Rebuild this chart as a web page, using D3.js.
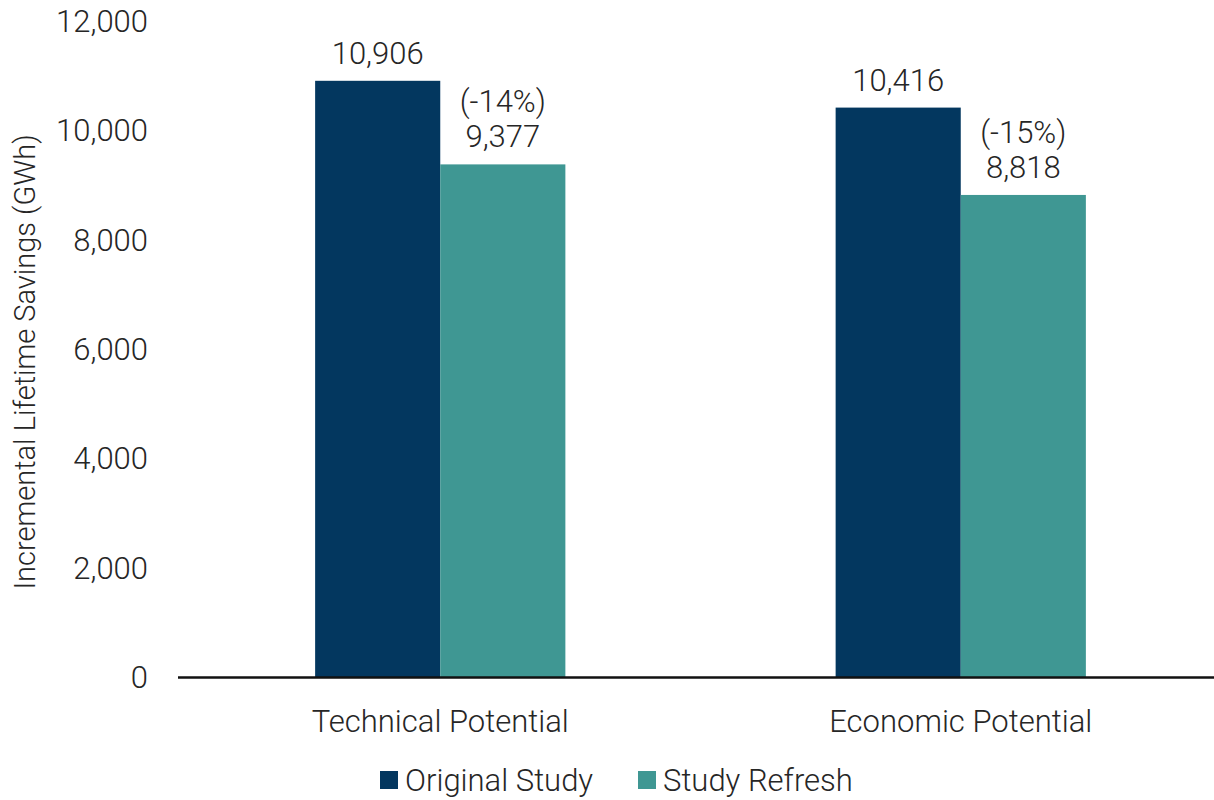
<!DOCTYPE html>
<html><head><meta charset="utf-8">
<script src="https://cdn.jsdelivr.net/npm/d3@7"></script>
<style>body{margin:0;background:#fff}svg{display:block}text{font-family:Roboto,"Liberation Sans",Arial,sans-serif;font-weight:300;fill:#262626}</style>
</head><body><svg id="c" width="1214" height="800"></svg>
<script>
const categories = ["Technical Potential", "Economic Potential"];
const seriesNames = ["Original Study", "Study Refresh"];
const originalValues = [10906, 10416];
const refreshValues = [9377, 8818];
const changeLabels = ["(-14%)", "(-15%)"];
const yTicks = [0, 2000, 4000, 6000, 8000, 10000, 12000];
const colors = ["#03375f", "#3f9793"];

const svg = d3.select("#c");
const x = d3.scaleBand().domain(categories).range([180, 1221]).paddingInner(0).paddingOuter(0);
const y = d3.scaleLinear().domain([0, 12000]).range([677, 21]);
const sub = d3.scaleBand().domain(seriesNames).range([0, x.bandwidth()]).paddingInner(0).paddingOuter(1.08);
const fs = 31;

// y tick labels
svg.append("g").selectAll("text").data(yTicks).join("text")
  .attr("x", 148).attr("y", d => y(d)).attr("dy", "0.35em")
  .attr("text-anchor", "end").style("font-size", fs + "px")
  .text(d => d3.format(",")(d));

// y title
svg.append("text").attr("transform", "translate(35,362) rotate(-90)")
  .attr("text-anchor", "middle").style("font-size", "29px")
  .text("Incremental Lifetime Savings (GWh)");

const data = categories.map((c, i) => ({cat: c, vals: [originalValues[i], refreshValues[i]], change: changeLabels[i]}));
const g = svg.append("g").selectAll("g").data(data).join("g")
  .attr("transform", d => `translate(${x(d.cat)},0)`);
g.selectAll("rect").data(d => d.vals.map((v, j) => ({v, s: seriesNames[j], j}))).join("rect")
  .attr("x", d => sub(d.s)).attr("width", sub.bandwidth())
  .attr("y", d => y(d.v)).attr("height", d => y(0) - y(d.v))
  .attr("fill", d => colors[d.j]);
g.selectAll("text.val").data(d => d.vals.map((v, j) => ({v, s: seriesNames[j], j}))).join("text")
  .attr("class", "val")
  .attr("x", d => sub(d.s) + sub.bandwidth() / 2).attr("y", d => y(d.v) - 17)
  .attr("text-anchor", "middle").style("font-size", fs + "px")
  .text(d => d3.format(",")(d.v));
g.append("text")
  .attr("x", sub(seriesNames[1]) + sub.bandwidth() / 2).attr("y", d => y(d.vals[1]) - 52)
  .attr("text-anchor", "middle").style("font-size", fs + "px")
  .text(d => d.change);

// x axis line
svg.append("line").attr("x1", 178).attr("x2", 1214).attr("y1", 677.5).attr("y2", 677.5)
  .attr("stroke", "#111").attr("stroke-width", 2.5);
// category labels
svg.append("g").selectAll("text").data(categories).join("text")
  .attr("x", d => x(d) + x.bandwidth() / 2).attr("y", 732)
  .attr("text-anchor", "middle").style("font-size", fs + "px").text(d => d);

// legend
const legendX = [380, 638];
const lg = svg.append("g").selectAll("g").data(seriesNames).join("g")
  .attr("transform", (d, i) => `translate(${legendX[i]},771)`);
lg.append("rect").attr("width", 18).attr("height", 18).attr("fill", (d, i) => colors[i]);
lg.append("text").attr("x", 25).attr("y", 9).attr("dy", "0.35em").style("font-size", fs + "px").text(d => d);
</script></body></html>
